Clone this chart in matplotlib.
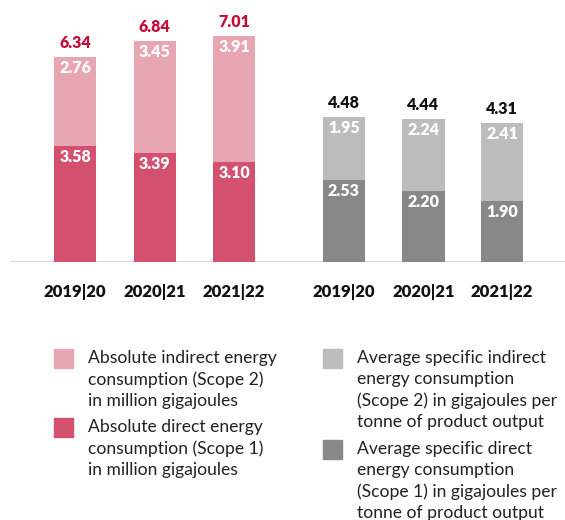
import matplotlib
matplotlib.use("Agg")
import matplotlib.pyplot as plt
from matplotlib.patches import Rectangle

# Energy consumption, two stacked groups on a shared scale
years = ["2019|20", "2020|21", "2021|22"]
abs_direct = [3.58, 3.39, 3.10]      # Scope 1, million GJ
abs_indirect = [2.76, 3.45, 3.91]    # Scope 2, million GJ
abs_total = [6.34, 6.84, 7.01]
spec_direct = [2.53, 2.20, 1.90]     # Scope 1, GJ per tonne
spec_indirect = [1.95, 2.24, 2.41]   # Scope 2, GJ per tonne
spec_total = [4.48, 4.44, 4.31]

pos_abs = [0, 1, 2]
pos_spec = [3.38, 4.38, 5.37]

PINK_DARK = "#d4506f"
PINK_LIGHT = "#e8a6b3"
GREY_DARK = "#888888"
GREY_LIGHT = "#bcbcbc"
RED_TEXT = "#c50d3a"

plt.rcParams["font.family"] = ["Lato", "DejaVu Sans"]

W, H = 565, 520
fig = plt.figure(figsize=(W / 100, H / 100), dpi=100)
ax = fig.add_axes([10 / W, (H - 262) / H, 1 - 10 / W, 262 / H])
ax.set_xlim(-0.818, 6.16)
ax.set_ylim(0, 262 / 32.3)
ax.axis("off")
ax.axhline(0, color="#dcdcdc", lw=2.2, zorder=1)

bw = 0.53
off_in = 11 / 32.3   # inner labels sit just below the segment top
off_tot = 14 / 32.3


def stack(pos, low, high, total, c_low, c_high, c_tot):
    ax.bar(pos, low, width=bw, color=c_low, zorder=2)
    ax.bar(pos, high, bottom=low, width=bw, color=c_high, zorder=2)
    for x, lo, hi, t in zip(pos, low, high, total):
        ax.text(x, lo - off_in, f"{lo:.2f}", ha="center", va="center",
                color="white", fontsize=11.5, fontweight="heavy", zorder=3)
        ax.text(x, lo + hi - off_in, f"{hi:.2f}", ha="center", va="center",
                color="white", fontsize=11.5, fontweight="heavy", zorder=3)
        ax.text(x, t + off_tot, f"{t:.2f}", ha="center", va="center",
                color=c_tot, fontsize=11.5, fontweight="heavy")


stack(pos_abs, abs_direct, abs_indirect, abs_total, PINK_DARK, PINK_LIGHT, RED_TEXT)
stack(pos_spec, spec_direct, spec_indirect, spec_total, GREY_DARK, GREY_LIGHT, "#111111")

for x, yr in zip(pos_abs + pos_spec, years + years):
    ax.text(x, -30 / 32.3, yr, ha="center", va="center",
            color="#111111", fontsize=12, fontweight="heavy")

# legend, laid out by hand in pixel coordinates
legend = [
    (54, 349, PINK_LIGHT, ["Absolute indirect energy", "consumption (Scope 2)",
                           "in million gigajoules"]),
    (54, 418, PINK_DARK, ["Absolute direct energy", "consumption (Scope 1)",
                          "in million gigajoules"]),
    (323, 349, GREY_LIGHT, ["Average specific indirect", "energy consumption",
                            "(Scope 2) in gigajoules per",
                            "tonne of product output"]),
    (323, 440, GREY_DARK, ["Average specific direct", "energy consumption",
                           "(Scope 1) in gigajoules per",
                           "tonne of product output"]),
]
for x0, y0, col, lines in legend:
    fig.patches.append(Rectangle((x0 / W, 1 - (y0 + 19) / H), 19 / W, 19 / H,
                                 transform=fig.transFigure, color=col))
    for k, line in enumerate(lines):
        fig.text((x0 + 34) / W, 1 - (y0 + 9 + 21.3 * k) / H, line,
                 ha="left", va="center", fontsize=12.6, color="#222222")

fig.savefig("out.png", dpi=100)
